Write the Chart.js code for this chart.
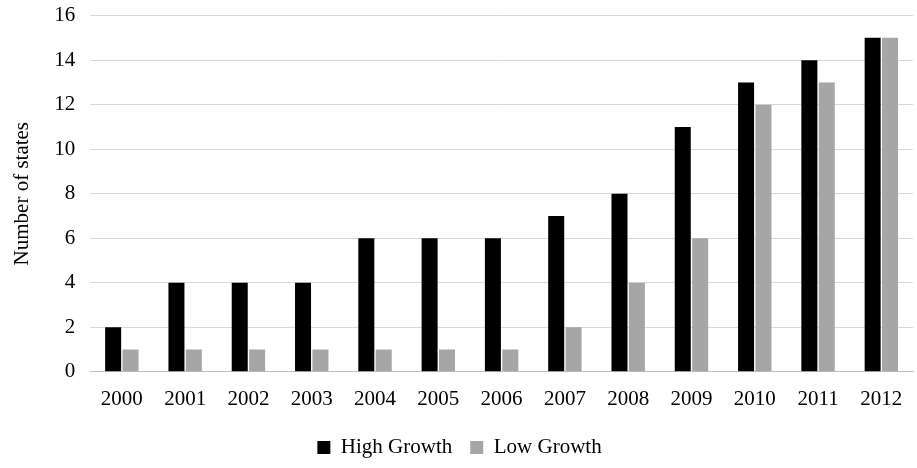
<!DOCTYPE html>
<html>
<head>
<script src="https://cdn.jsdelivr.net/npm/chart.js@4"></script>
<style>
html,body{margin:0;padding:0;background:#fff;overflow:hidden;}
#wrap{width:917px;height:480px;margin-top:-12px;}
</style>
</head>
<body>
<div id="wrap"><canvas id="myChart"></canvas></div>
<script>
var years = ['2000','2001','2002','2003','2004','2005','2006','2007','2008','2009','2010','2011','2012'];
var highGrowth = [2, 4, 4, 4, 6, 6, 6, 7, 8, 11, 13, 14, 15];
var lowGrowth = [1, 1, 1, 1, 1, 1, 1, 2, 4, 6, 12, 13, 15];

Chart.defaults.font.family = '"Liberation Serif", "Times New Roman", serif';
Chart.defaults.font.size = 21;
Chart.defaults.color = '#000';

var ctx = document.getElementById('myChart');
var myChart = new Chart(ctx, {
    type: 'bar',
    data: {
        labels: years,
        datasets: [{
            label: 'High Growth',
            data: highGrowth,
            backgroundColor: '#000000',
            categoryPercentage: 0.55,
            barPercentage: 0.92
        }, {
            label: 'Low Growth',
            data: lowGrowth,
            backgroundColor: '#a6a6a6',
            categoryPercentage: 0.55,
            barPercentage: 0.92
        }]
    },
    options: {
        responsive: true,
        maintainAspectRatio: false,
        animation: false,
        layout: {padding: {top: 0, right: 4, bottom: 0, left: 6}},
        plugins: {
            legend: {
                position: 'bottom',
                labels: {boxWidth: 13, boxHeight: 13, padding: 18, font: {size: 21}}
            },
            tooltip: {enabled: false}
        },
        scales: {
            x: {
                grid: {display: false},
                border: {color: '#bfbfbf'},
                ticks: {padding: 7, font: {size: 21}}
            },
            y: {
                min: 0,
                max: 16,
                ticks: {stepSize: 2, padding: 15, font: {size: 21}},
                grid: {color: '#d9d9d9', drawTicks: false},
                border: {display: false},
                title: {display: true, text: 'Number of states', font: {size: 21}}
            }
        }
    }
});
</script>
</body>
</html>
